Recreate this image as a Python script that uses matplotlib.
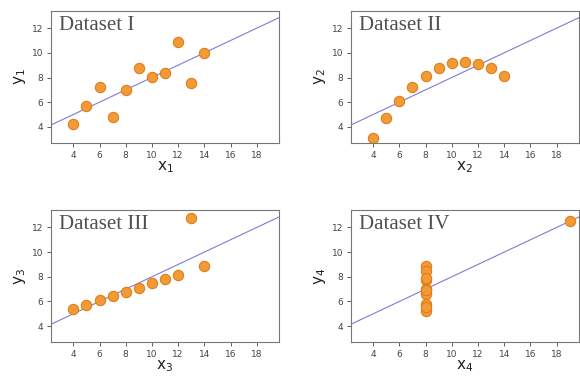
import numpy as np
import matplotlib.pyplot as plt

x123 = [10, 8, 13, 9, 11, 14, 6, 4, 12, 7, 5]
y1 = [8.04, 6.95, 7.58, 8.81, 8.33, 9.96, 7.24, 4.26, 10.84, 4.82, 5.68]
y2 = [9.14, 8.14, 8.74, 8.77, 9.26, 8.10, 6.13, 3.10, 9.13, 7.26, 4.74]
y3 = [7.46, 6.77, 12.74, 7.11, 7.81, 8.84, 6.08, 5.39, 8.15, 6.42, 5.73]
x4 = [8, 8, 8, 8, 8, 8, 8, 19, 8, 8, 8]
y4 = [6.58, 5.76, 7.71, 8.84, 8.47, 7.04, 5.25, 12.50, 5.56, 7.91, 6.89]
titles = ["Dataset I", "Dataset II", "Dataset III", "Dataset IV"]
fit_a, fit_b = 3.0, 0.5

datasets = [(x123, y1), (x123, y2), (x123, y3), (x4, y4)]
positions = [
    (0.088, 0.620), (0.605, 0.620),
    (0.088, 0.090), (0.605, 0.090),
]

fig = plt.figure(figsize=(5.8, 3.76), dpi=100)
for i, ((xs, ys), title, (l, b)) in enumerate(zip(datasets, titles, positions)):
    ax = fig.add_axes([l, b, 0.393, 0.351])
    xl = np.array([2.3, 19.7])
    ax.plot(xl, fit_a + fit_b * xl, color="#7c7cd4", lw=0.8, zorder=1)
    ax.scatter(xs, ys, s=55, color="#f29a35", edgecolor="#e07d1a", lw=0.8, zorder=2)
    ax.set_xlim(2.3, 19.7)
    ax.set_ylim(2.7, 13.4)
    ax.set_xticks(range(4, 19, 2))
    ax.set_yticks(range(4, 13, 2))
    ax.tick_params(labelsize=6.5, colors="#444444", length=3, width=0.6, pad=2.5)
    for s in ax.spines.values():
        s.set_color("#777777")
        s.set_linewidth(0.8)
    ax.set_xlabel(f"x$_{i+1}$", fontsize=11, labelpad=0, color="#222222")
    ax.set_ylabel(f"y$_{i+1}$", fontsize=11, labelpad=3, color="#222222")
    ax.text(0.035, 0.96, title, transform=ax.transAxes, ha="left", va="top",
            fontsize=15, family="Liberation Serif", color="#505050")

fig.savefig("out.png", dpi=100)
